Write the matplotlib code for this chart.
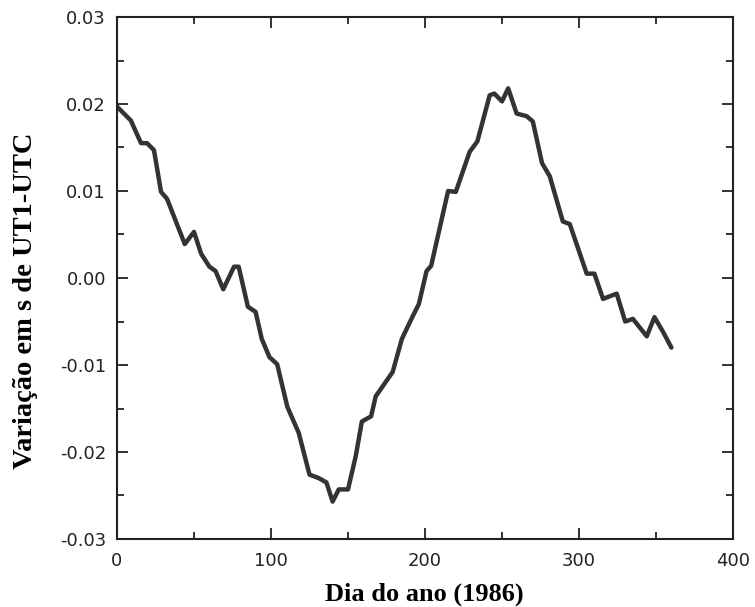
import matplotlib
matplotlib.use("Agg")
import matplotlib.pyplot as plt
from matplotlib.ticker import MultipleLocator, FormatStrFormatter

days = [0, 9, 15.6, 19.5, 24, 28.6, 32.5, 44, 50, 54.6, 60, 64, 69, 76, 79,
        85, 90, 94, 99, 104, 110.6, 118, 125, 131, 136, 140, 144, 150, 155,
        159, 165, 168, 179, 185, 192, 196, 201, 204, 215, 220, 229, 234, 242,
        245, 250, 254, 259.5, 266, 270, 276, 281, 289.5, 294, 305, 310, 315.6,
        324.5, 330, 335, 344, 349, 354.6, 360]
ut1_utc = [0.0197, 0.0181, 0.0155, 0.0155, 0.0147, 0.0099, 0.0091, 0.0039,
           0.0053, 0.0028, 0.0013, 0.0008, -0.0013, 0.0013, 0.0013, -0.0033,
           -0.0039, -0.0070, -0.0091, -0.0099, -0.0148, -0.0178, -0.0226,
           -0.0230, -0.0235, -0.0257, -0.0243, -0.0243, -0.0205, -0.0165,
           -0.0159, -0.0136, -0.0108, -0.0070, -0.0044, -0.0030, 0.0008,
           0.0014, 0.0100, 0.0099, 0.0145, 0.0157, 0.0210, 0.0212, 0.0203,
           0.0218, 0.0189, 0.0186, 0.0180, 0.0132, 0.0117, 0.0065, 0.0062,
           0.0005, 0.0005, -0.0024, -0.0018, -0.0050, -0.0047, -0.0067,
           -0.0045, -0.0062, -0.0080]

xticks = [0, 100, 200, 300, 400]
yticks = [-0.03, -0.02, -0.01, 0.00, 0.01, 0.02, 0.03]

plt.rcParams['axes.unicode_minus'] = False
W, H = 755, 607
fig = plt.figure(figsize=(W / 100, H / 100), dpi=100)
ax = fig.add_axes([117 / W, 1 - 539 / H, (733 - 117) / W, (539 - 17) / H])
ax.plot(days, ut1_utc, color='#333333', lw=3.2, solid_joinstyle='round', solid_capstyle='round')
ax.set_xlim(0, 400)
ax.set_ylim(-0.03, 0.03)
ax.set_xticks(xticks)
ax.set_yticks(yticks)
ax.xaxis.set_minor_locator(MultipleLocator(50))
ax.yaxis.set_minor_locator(MultipleLocator(0.005))
ax.yaxis.set_major_formatter(FormatStrFormatter('%.2f'))
ax.tick_params(which='both', direction='in', top=True, right=True, width=1.3, color='#222222')
ax.tick_params(which='major', length=8)
ax.tick_params(which='minor', length=5)
ax.tick_params(axis='y', pad=8)
ax.tick_params(axis='x', pad=9)
for lab in ax.get_xticklabels() + ax.get_yticklabels():
    lab.set_family('DejaVu Sans')
    lab.set_fontsize(13)
    lab.set_color('#222222')
for s in ax.spines.values():
    s.set_linewidth(1.5)
    s.set_color('#222222')
fig.text(424 / W, 1 - 601 / H, 'Dia do ano (1986)', family='Liberation Serif',
         fontweight='bold', fontsize=19, ha='center', va='baseline')
fig.text(32 / W, 1 - 301 / H, 'Variação em s de UT1-UTC', family='Liberation Serif',
         fontweight='bold', fontsize=20.5, ha='center', va='baseline',
         rotation=90, rotation_mode='anchor')
fig.savefig('out.png', dpi=100)
